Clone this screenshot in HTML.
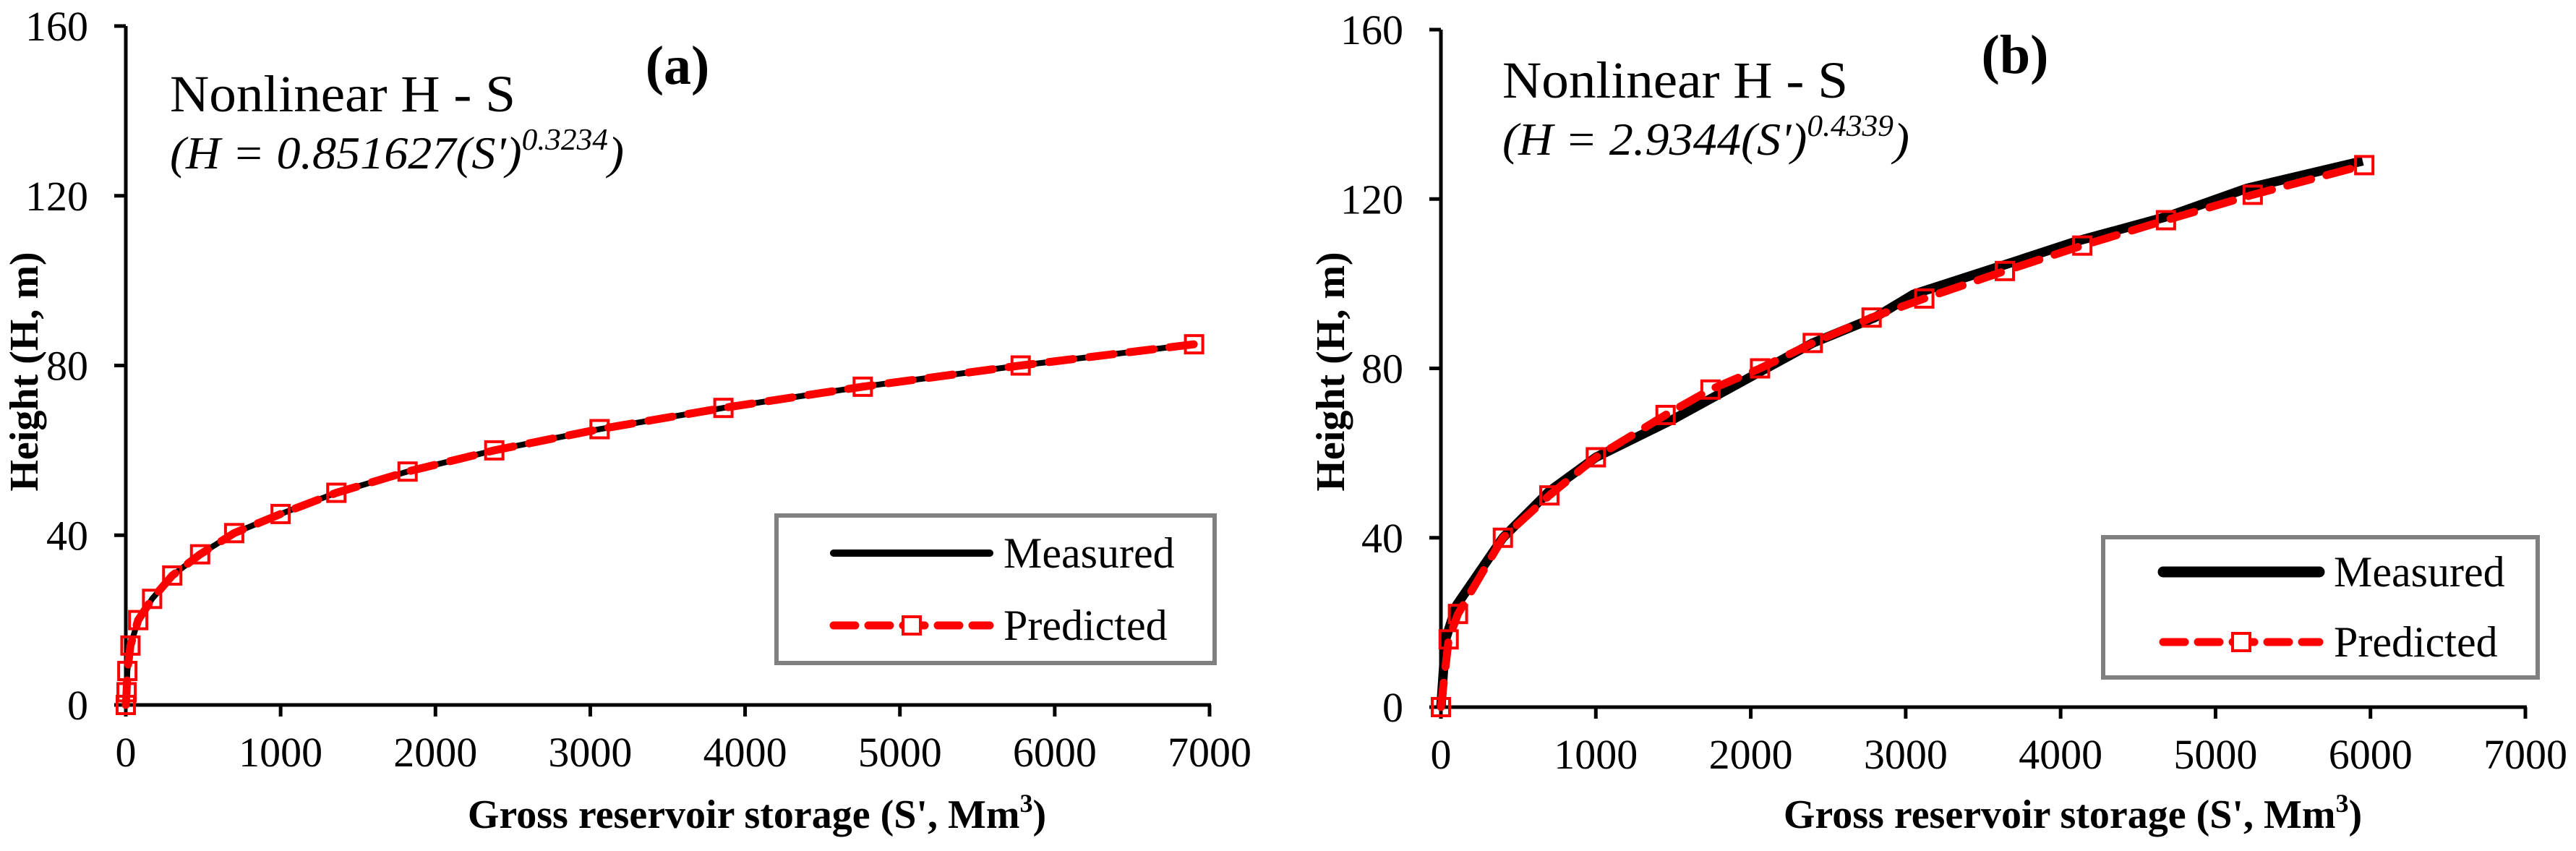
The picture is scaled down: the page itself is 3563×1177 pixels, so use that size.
<!DOCTYPE html>
<html><head><meta charset="utf-8"><style>
html,body{margin:0;padding:0;background:#fff;}
svg{display:block;}
text{font-family:"Liberation Serif",serif;}
</style></head><body>
<svg id="c" width="3563" height="1177" viewBox="0 0 3563 1177" xmlns="http://www.w3.org/2000/svg"></svg>
<script>
const xTicks=[0,1000,2000,3000,4000,5000,6000,7000];
const yTicks=[0,40,80,120,160];
const aMeasS=[0,5,10,30,80,170,300,480,700,1000,1360,1820,2380,3060,3860,4760,5780,6900];
const aMeasH=[0,3,8,14,20,25,30.5,35.5,40.5,45,50,55,60,65,70,75,80,85];
const aPredS=[0,5,10,30,80,170,300,480,700,1000,1360,1820,2380,3060,3860,4760,5780,6900];
const aPredH=[0,3,8,14,20,25,30.5,35.5,40.5,45,50,55,60,65,70,75,80,85];
const bMeasS=[0,30,100,400,700,1000,1500,2000,2400,2800,3050,3600,4100,4700,5200,5950];
const bMeasH=[0,16,24,40,51,59,68,78,86,92,97.5,104,110,116,122.5,129];
const bPredS=[0,50,110,400,700,1000,1450,1740,2060,2400,2780,3120,3640,4140,4680,5240,5960];
const bPredH=[0,16,22,40,50,59,69,75,80,86,92,96.5,103,109,115,121,128];

const NS="http://www.w3.org/2000/svg";
const svg=document.getElementById('c');
function mk(tag,attrs,parent){const e=document.createElementNS(NS,tag);for(const k in attrs)e.setAttribute(k,attrs[k]);(parent||svg).appendChild(e);return e;}

const panels=[
 {id:'a',x0:174,x1:1673,y0:975,y1:36,ms:aMeasS,mh:aMeasH,ps:aPredS,ph:aPredH,mw:8,
  leg:[1074,713,1680,917],legLine:[1153,1369],legText:1388,legMy:765,legPy:865,
  ylx:32,title:[235,154],eq:[235,233,628,'0.851627','0.3234'],lab:[937,116,'(a)'],xt:1047},
 {id:'b',x0:1993,x1:3493,y0:978,y1:41,ms:bMeasS,mh:bMeasH,ps:bPredS,ph:bPredH,mw:13,
  leg:[2909,743,3510,937],legLine:[2992,3208],legText:3228,legMy:791,legPy:888,
  ylx:1839,title:[2078,135],eq:[2078,214,563,'2.9344','0.4339'],lab:[2787,101,'(b)'],xt:2867}
];

panels.forEach(p=>{
 const g=mk('g',{});
 
 
 const X=v=>p.x0+(v-0)/(7000)*(p.x1-p.x0);
 const Y=v=>p.y0-(v/160)*(p.y0-p.y1);
 const ya=mk('line',{x1:p.x0,y1:p.y1,x2:p.x0,y2:p.y0,stroke:'#000','stroke-width':5},g);
 
 const xa=mk('line',{x1:p.x0-2,y1:p.y0,x2:p.x1+2,y2:p.y0,stroke:'#000','stroke-width':5},g);
 
 yTicks.forEach(t=>{
  mk('line',{x1:p.x0-16,y1:Y(t),x2:p.x0,y2:Y(t),stroke:'#000','stroke-width':5},g);
  const tx=mk('text',{x:p.x0-52,y:Y(t)+20,'text-anchor':'end','font-size':58},g);
  tx.textContent=t;
  
 });
 xTicks.forEach(t=>{
  mk('line',{x1:X(t),y1:p.y0,x2:X(t),y2:p.y0+16,stroke:'#000','stroke-width':5},g);
  const tx=mk('text',{x:X(t),y:p.y0+85,'text-anchor':'middle','font-size':58},g);
  tx.textContent=t;
  
 });
 const mp=p.ms.map((s,i)=>X(s)+','+Y(p.mh[i])).join(' ');
 const ml=mk('polyline',{points:mp,fill:'none',stroke:'#000','stroke-width':p.mw,'stroke-linejoin':'round'},g);
 
 const pp=p.ps.map((s,i)=>X(s)+','+Y(p.ph[i])).join(' ');
 const pl=mk('polyline',{points:pp,fill:'none',stroke:'#f00','stroke-width':11,'stroke-dasharray':'34,22','stroke-linecap':'round','stroke-linejoin':'round'},g);
 
 p.ps.forEach((s,i)=>{
  const r=mk('rect',{x:X(s)-12,y:Y(p.ph[i])-12,width:24,height:24,fill:'none',stroke:'#f00','stroke-width':4},g);
  
 });
 const [lx0,ly0,lx1,ly1]=p.leg;
 const lg=mk('g',{},g);
 
 mk('rect',{x:lx0,y:ly0,width:lx1-lx0,height:ly1-ly0,fill:'#fff',stroke:'#808080','stroke-width':6},lg);
 const e1=mk('g',{},lg);
 mk('line',{x1:p.legLine[0],y1:p.legMy,x2:p.legLine[1],y2:p.legMy,stroke:'#000','stroke-width':p.mw+2,'stroke-linecap':'round'},e1);
 const t1=mk('text',{x:p.legText,y:p.legMy+20,'font-size':60},e1);t1.textContent='Measured';
 const e2=mk('g',{},lg);
 mk('line',{x1:p.legLine[0],y1:p.legPy,x2:p.legLine[1],y2:p.legPy,stroke:'#f00','stroke-width':11,'stroke-dasharray':'30,18','stroke-linecap':'round'},e2);
 const mcx=(p.legLine[0]+p.legLine[1])/2;
 mk('rect',{x:mcx-12,y:p.legPy-12,width:24,height:24,fill:'#fff',stroke:'#f00','stroke-width':4},e2);
 const t2=mk('text',{x:p.legText,y:p.legPy+20,'font-size':60},e2);t2.textContent='Predicted';
 const yl=mk('text',{x:0,y:0,'font-size':56,'font-weight':'bold','text-anchor':'middle',transform:`translate(${p.ylx+20},514) rotate(-90)`},g);
 yl.textContent='Height (H, m)';
 
 const xl=mk('text',{x:p.xt,y:1145,'font-size':56,'font-weight':'bold','text-anchor':'middle'},g);
 xl.innerHTML='Gross reservoir storage (S\', Mm<tspan dy="-22" font-size="36">3</tspan><tspan dy="22">)</tspan>';
 
 const ti=mk('text',{x:p.title[0],y:p.title[1],'font-size':72,textLength:478,lengthAdjust:'spacingAndGlyphs'},g);
 ti.textContent='Nonlinear H - S';
 
 const eq=mk('text',{x:p.eq[0],y:p.eq[1],'font-size':64,'font-style':'italic',textLength:p.eq[2],lengthAdjust:'spacingAndGlyphs'},g);
 eq.innerHTML=`(H = ${p.eq[3]}(S')<tspan dy="-26" font-size="42">${p.eq[4]}</tspan><tspan dy="26">)</tspan>`;
 
 const lb=mk('text',{x:p.lab[0],y:p.lab[1],'font-size':76,'font-weight':'bold','text-anchor':'middle'},g);
 lb.textContent=p.lab[2];
 
});
</script>
</body></html>
